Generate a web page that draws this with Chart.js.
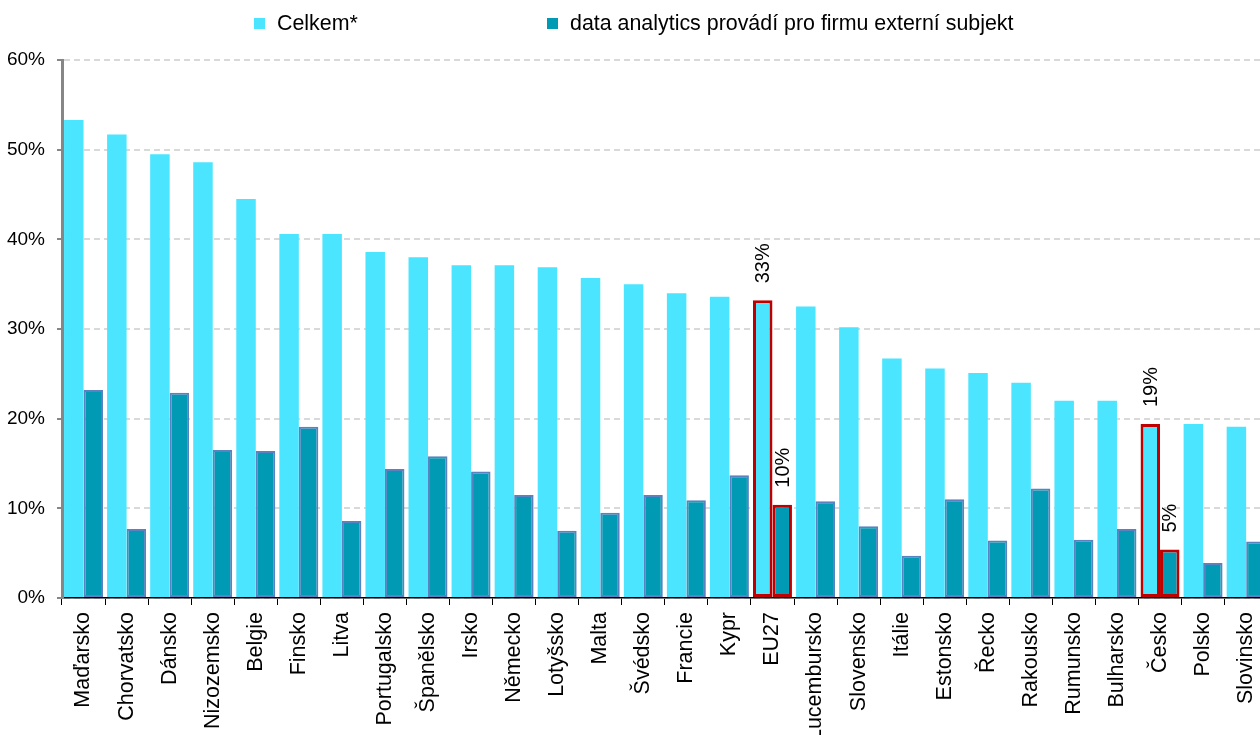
<!DOCTYPE html>
<html>
<head>
<meta charset="utf-8">
<script src="https://cdn.jsdelivr.net/npm/chart.js@4.4.1/dist/chart.umd.min.js"></script>
<style>
  html, body { margin: 0; padding: 0; background: #ffffff; overflow: hidden; }
  #wrap { width: 1260px; height: 735px; overflow: hidden; position: relative; }
  canvas { display: block; }
</style>
</head>
<body>
<div id="wrap"><canvas id="chart" width="1279" height="735"></canvas></div>
<script>
const categories = ['Maďarsko','Chorvatsko','Dánsko','Nizozemsko','Belgie','Finsko','Litva','Portugalsko','Španělsko','Irsko','Německo','Lotyšsko','Malta','Švédsko','Francie','Kypr','EU27','Lucembursko','Slovensko','Itálie','Estonsko','Řecko','Rakousko','Rumunsko','Bulharsko','Česko','Polsko','Slovinsko'];
const totalValues = [53.3,51.7,49.5,48.6,44.5,40.6,40.6,38.6,38.0,37.1,37.1,36.9,35.7,35.0,34.0,33.6,33.2,32.5,30.2,26.7,25.6,25.1,24.0,22.0,22.0,19.4,19.4,19.1];
const externalValues = [23.2,7.7,22.9,16.5,16.4,19.1,8.6,14.4,15.8,14.1,11.5,7.5,9.5,11.5,10.9,13.7,10.4,10.8,8.0,4.7,11.0,6.4,12.2,6.5,7.7,5.4,3.9,6.3];
const seriesLabels = ['Celkem*', 'data analytics provádí pro firmu externí subjekt'];
const highlighted = ['EU27', 'Česko'];
const yTickValues = [0,10,20,30,40,50,60];

const FONT = "'Liberation Sans', Arial, sans-serif";
const LIGHT = '#4BE5FF';
const DARK = '#009AB4';
const DARK_BORDER = '#5A82C0';
const RED = '#C00000';

const isHi = (i) => highlighted.includes(categories[i]);

const fixedLegend = {
  id: 'fixedLegend',
  afterDraw(chart) {
    const ctx = chart.ctx;
    const xs = [254, 547];
    ctx.save();
    ctx.font = '21.4px ' + FONT;
    ctx.textBaseline = 'middle';
    ctx.textAlign = 'left';
    chart.data.datasets.forEach((ds, di) => {
      ctx.fillStyle = ds.legendColor;
      ctx.fillRect(xs[di], 18, 11, 11);
      ctx.fillStyle = '#000';
      ctx.fillText(ds.label, xs[di] + 23, 24);
    });
    ctx.restore();
  }
};

const valueLabels = {
  id: 'valueLabels',
  afterDatasetsDraw(chart) {
    const ctx = chart.ctx;
    ctx.save();
    ctx.font = '20px ' + FONT;
    ctx.fillStyle = '#000';
    ctx.textAlign = 'left';
    ctx.textBaseline = 'middle';
    chart.data.datasets.forEach((ds, di) => {
      const meta = chart.getDatasetMeta(di);
      meta.data.forEach((bar, i) => {
        if (!isHi(i)) return;
        ctx.save();
        ctx.translate(bar.x + 1, bar.y - 17);
        ctx.rotate(-Math.PI / 2);
        ctx.fillText(Math.round(ds.data[i]) + '%', 0, 0);
        ctx.restore();
      });
    });
    ctx.restore();
  }
};

new Chart(document.getElementById('chart'), {
  type: 'bar',
  data: {
    labels: categories,
    datasets: [
      {
        label: seriesLabels[0],
        data: totalValues,
        legendColor: LIGHT,
        backgroundColor: LIGHT,
        borderColor: categories.map((c, i) => isHi(i) ? RED : LIGHT),
        borderWidth: categories.map((c, i) => isHi(i) ? 3 : 0),
        borderSkipped: false,
        categoryPercentage: 0.905,
        barPercentage: 1.0
      },
      {
        label: seriesLabels[1],
        data: externalValues,
        legendColor: DARK,
        backgroundColor: DARK,
        borderColor: categories.map((c, i) => isHi(i) ? RED : DARK_BORDER),
        borderWidth: categories.map((c, i) => isHi(i) ? 3 : 2),
        borderSkipped: false,
        categoryPercentage: 0.905,
        barPercentage: 1.0
      }
    ]
  },
  options: {
    responsive: false,
    animation: false,
    layout: { padding: { top: 60, left: 0, right: 3, bottom: 0 } },
    plugins: {
      legend: { display: false },
      tooltip: { enabled: false }
    },
    scales: {
      x: {
        offset: true,
        grid: {
          offset: true,
          drawOnChartArea: false,
          drawTicks: true,
          tickLength: 7,
          tickColor: '#000',
          tickWidth: 1
        },
        border: { display: true, color: '#000', width: 1.5 },
        ticks: {
          autoSkip: false,
          maxRotation: 90,
          minRotation: 90,
          padding: 7,
          color: '#000',
          font: { family: FONT, size: 21.5 }
        },
        afterFit(scale) { scale.height = 137; }
      },
      y: {
        min: 0,
        max: 60,
        afterBuildTicks(scale) { scale.ticks = yTickValues.map(v => ({ value: v })); },
        grid: {
          color: '#D9D9D9',
          lineWidth: 2,
          drawTicks: true,
          tickLength: 5,
          tickColor: '#868686',
          tickWidth: 2,
          tickBorderDash: []
        },
        border: { display: true, color: '#868686', width: 3, dash: [6, 4] },
        ticks: {
          padding: 12,
          color: '#000',
          font: { family: FONT, size: 19 },
          callback: (v) => v + '%'
        },
        afterFit(scale) { scale.width = 62; }
      }
    }
  },
  plugins: [fixedLegend, valueLabels]
});
</script>
</body>
</html>
